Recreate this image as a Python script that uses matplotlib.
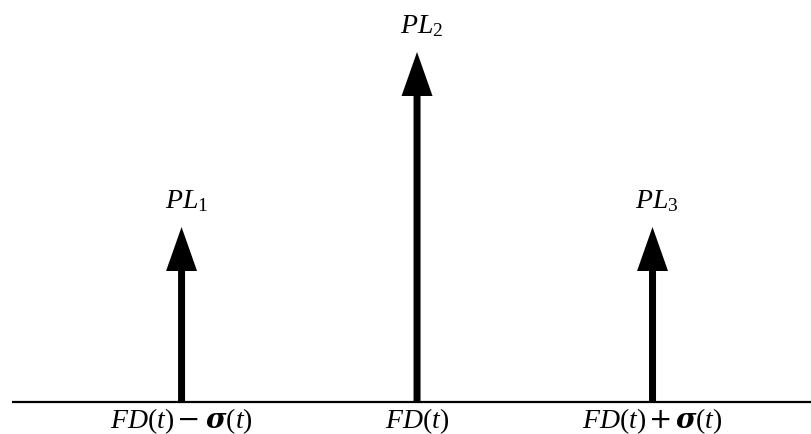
import matplotlib
matplotlib.use("Agg")
import matplotlib.pyplot as plt

# Data
positions = [-1, 0, 1]
heights = [0.5, 1.0, 0.5]
peak_labels = [r"$PL_{\mathregular{1}}$", r"$PL_{\mathregular{2}}$", r"$PL_{\mathregular{3}}$"]
tick_labels = [r"$FD(t)\,\mathsf{-}\;\mathcal{\sigma}(t)$", r"$FD(t)$",
               r"$FD(t)\,\mathsf{+}\,\mathcal{\sigma}(t)$"]

plt.rcParams['mathtext.fontset'] = 'custom'
plt.rcParams['mathtext.rm'] = 'Liberation Serif'
plt.rcParams['mathtext.it'] = 'Liberation Serif:italic'
plt.rcParams['mathtext.bf'] = 'Liberation Serif:bold'
plt.rcParams['mathtext.sf'] = 'DejaVu Sans'
plt.rcParams['mathtext.cal'] = 'DejaVu Serif:italic:bold'
plt.rcParams['font.family'] = ['Liberation Serif', 'DejaVu Serif']

fig = plt.figure(figsize=(8.11, 4.35), dpi=100)
ax = fig.add_axes([0, 0, 1, 1])
ax.set_xlim(-1.771, 1.673)
ax.set_ylim(-32 / 350, 403 / 350)
ax.axis('off')

# baseline
ax.plot([-1.72, 1.673], [0, 0], color='black', lw=1.6, solid_capstyle='butt')

px_x = 1 / 235.5
px_y = 1 / 350
for x, h, lab, xl in zip(positions, heights, peak_labels, tick_labels):
    ax.arrow(x, 0, 0, h, width=7 * px_x, head_width=31 * px_x,
             head_length=44 * px_y, length_includes_head=True,
             color='black', lw=0)
    ax.text(x + 0.02, h + 27 * px_y, lab, ha='center', va='center', fontsize=20)
    ax.text(x, -18 * px_y, xl, ha='center', va='center', fontsize=20)

fig.savefig("out.png", dpi=100, facecolor='white')
